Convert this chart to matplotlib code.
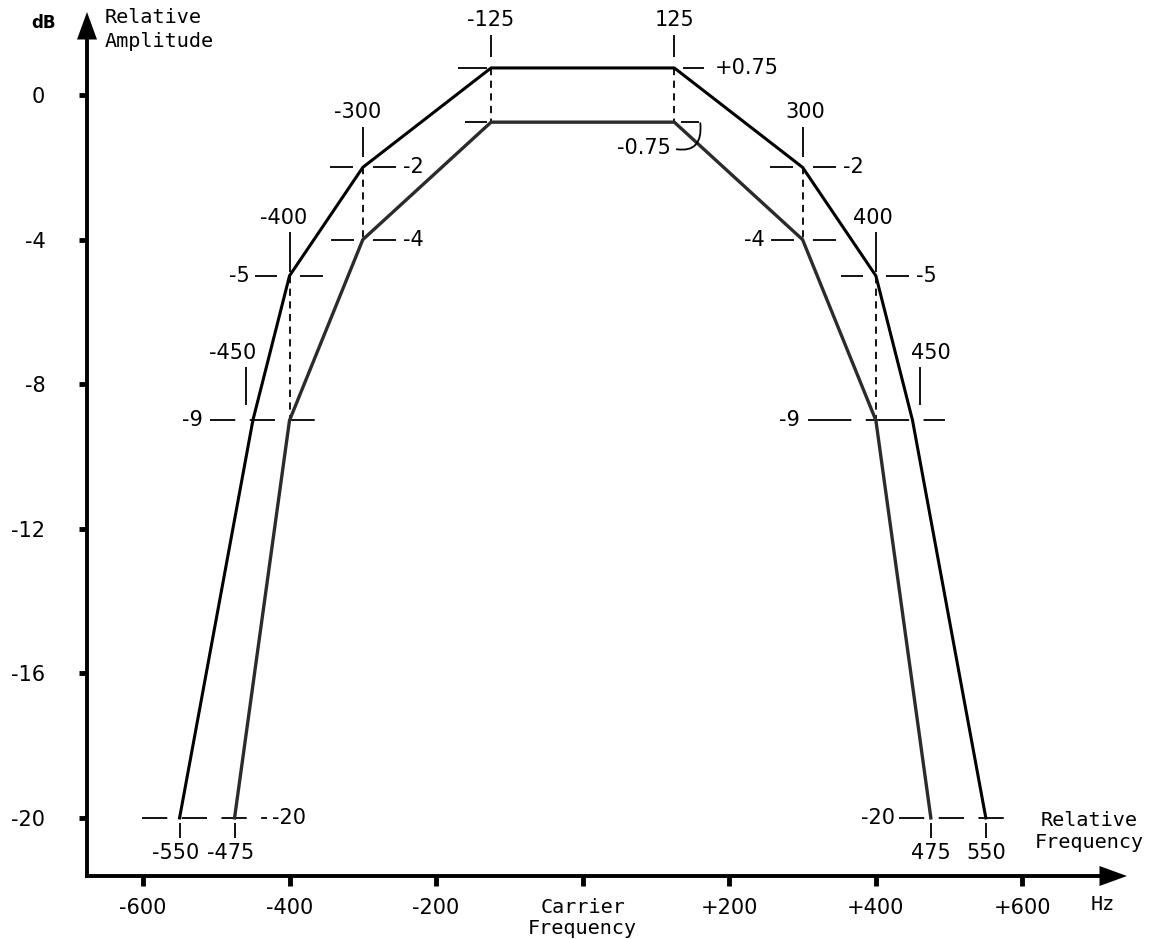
import matplotlib
matplotlib.use("Agg")
import matplotlib.pyplot as plt

# filter mask break points: frequency offset from carrier (Hz) and level (dB)
outer_hz = [-550, -450, -400, -300, -125, 125, 300, 400, 450, 550]
outer_db = [-20, -9, -5, -2, 0.75, 0.75, -2, -5, -9, -20]
inner_hz = [-475, -400, -300, -125, 125, 300, 400, 475]
inner_db = [-20, -9, -4, -0.75, -0.75, -4, -9, -20]

freq_ticks = [-600, -400, -200, 0, 200, 400, 600]
freq_labels = ["-600", "-400", "-200", "Carrier\nFrequency", "+200", "+400", "+600"]
db_ticks = [0, -4, -8, -12, -16, -20]
db_labels = ["0", "-4", "-8", "-12", "-16", "-20"]

W, H = 1150, 939
XLIM = (-795, 774)
YLIM = (-23.35, 2.63)
HZ_PX = (XLIM[1] - XLIM[0]) / W
DB_PX = (YLIM[1] - YLIM[0]) / H
AXIS_X = XLIM[0] + 87 * HZ_PX
AXIS_Y = YLIM[1] - 876 * DB_PX

MONO = "DejaVu Sans Mono"
FS = 15
LW = 1.3

fig = plt.figure(figsize=(W / 100, H / 100), dpi=100)
ax = fig.add_axes([0, 0, 1, 1])
ax.set_xlim(*XLIM)
ax.set_ylim(*YLIM)

# axes drawn as arrows through the left/bottom spines
for side in ["top", "right"]:
    ax.spines[side].set_visible(False)
ax.spines["left"].set_position(("data", AXIS_X))
ax.spines["bottom"].set_position(("data", AXIS_Y))
ax.spines["left"].set_linewidth(2.8)
ax.spines["bottom"].set_linewidth(2.8)
top_tip = YLIM[1] - 12 * DB_PX
right_tip = XLIM[0] + 1127 * HZ_PX
ax.spines["left"].set_bounds(AXIS_Y, top_tip - 15 * DB_PX)
ax.spines["bottom"].set_bounds(AXIS_X, right_tip - 15 * HZ_PX)
head = dict(arrowstyle="-|>,head_length=1.1,head_width=0.4", mutation_scale=18,
            color="black", lw=0, shrinkA=0, shrinkB=0)
ax.annotate("", xy=(AXIS_X, top_tip), xytext=(AXIS_X, top_tip - 30 * DB_PX), arrowprops=head)
ax.annotate("", xy=(right_tip, AXIS_Y), xytext=(right_tip - 30 * HZ_PX, AXIS_Y), arrowprops=head)

ax.set_xticks(freq_ticks)
ax.set_xticklabels(freq_labels)
ax.set_yticks(db_ticks)
ax.set_yticklabels(db_labels)
ax.tick_params(axis="y", direction="out", length=6, width=3.5, pad=24, labelsize=FS)
ax.tick_params(axis="x", direction="out", length=7, width=3.5, pad=9, labelsize=FS)
carrier = ax.get_xticklabels()[3]
carrier.set_fontfamily(MONO)
carrier.set_fontsize(14.5)
carrier.set_linespacing(1.1)

# the two mask curves
ax.plot(outer_hz, outer_db, color="black", lw=2.2, zorder=3)
ax.plot(inner_hz, inner_db, color="#2b2b2b", lw=2.4, zorder=3)

o = dict(zip(outer_hz, outer_db))
n = dict(zip(inner_hz, inner_db))


def seg(x, y, dx0, dy0, dx1, dy1, ls="-"):
    # short line next to a data point, offsets in pixels (y up)
    ax.plot([x + dx0 * HZ_PX, x + dx1 * HZ_PX], [y + dy0 * DB_PX, y + dy1 * DB_PX],
            color="black", lw=LW, ls=ls, solid_capstyle="butt")


def txt(x, y, s, dx, dy, ha="center"):
    ax.text(x + dx * HZ_PX, y + dy * DB_PX, s, ha=ha, va="center", fontsize=FS)


# frequency labels with tick above each corner of the outer curve
tops = {-125: (0, 48, 11, 33, 0), 125: (0, 48, 11, 33, 0),
        -300: (-5, 55, 10, 40, 0), 300: (3, 55, 10, 40, 0),
        -400: (-6, 58, 4, 44, 0), 400: (-3, 58, 4, 44, 0),
        -450: (-20, 67, 15, 53, -7), 450: (18, 67, 15, 53, 7)}
for h, (ldx, ldy, t0, t1, tdx) in tops.items():
    txt(h, o[h], str(h), ldx, ldy)
    seg(h, o[h], tdx, t0, tdx, t1)

# dashed drops from outer corner to inner corner at the same frequency
for h in sorted(set(o) & set(n)):
    ax.plot([h, h], [o[h], n[h]], color="black", lw=LW, ls=(0, (4, 3)))

# +0.75 / -0.75 levels
seg(-125, o[-125], -33, 0, -4, 0)
seg(125, o[125], 9, 0, 30, 0)
txt(125, o[125], "+0.75", 40, 0, ha="left")
seg(-125, n[-125], -26, 0, -4, 0)
seg(125, n[125], 7, 0, 25, 0)
ax.annotate("-0.75", xy=(125 + 26 * HZ_PX, n[125] - 1 * DB_PX),
            xytext=(125 - 3 * HZ_PX, n[125] - 26 * DB_PX), ha="right", va="center",
            fontsize=FS,
            arrowprops=dict(arrowstyle="-", lw=LW, color="black", shrinkA=2, shrinkB=0,
                            relpos=(1, 0.5), connectionstyle="arc3,rad=0.7"))

# -2 outer, -4 inner, -5 outer
for h in (-300, 300):
    seg(h, o[h], -33, 0, -10, 0)
    seg(h, o[h], 10, 0, 33, 0)
    txt(h, o[h], "-2", 40, 0, ha="left")
    seg(h, n[h], -32, 0, -9, 0)
    seg(h, n[h], 10, 0, 33, 0)
txt(-300, n[-300], "-4", 40, 0, ha="left")
txt(300, n[300], "-4", -38, 0, ha="right")
for h in (-400, 400):
    seg(h, o[h], -35, 0, -13, 0)
    seg(h, o[h], 10, 0, 33, 0)
txt(-400, o[-400], "-5", -40, 0, ha="right")
txt(400, o[400], "-5", 40, 0, ha="left")

# -9 and -20 reference lines
seg(-450, -9, -43, 0, (-400 + 450) / HZ_PX + 33, 0, ls=(0, (14, 8)))
txt(-450, -9, "-9", -50, 0, ha="right")
seg(400, -9, -68, 0, (450 - 400) / HZ_PX + 32, 0, ls=(0, (24, 8)))
txt(400, -9, "-9", -76, 0, ha="right")
seg(-550, -20, -38, 0, (-475 + 550) / HZ_PX + 32, 0, ls=(0, (14, 8)))
txt(-475, -20, "-20", 37, 0, ha="left")
seg(475, -20, -32, 0, (550 - 475) / HZ_PX + 31, 0, ls=(0, (14, 8)))
txt(475, -20, "-20", -36, 0, ha="right")
for h in (-550, -475):
    seg(h, -20, 0, -5, 0, -20)
    txt(h, -20, str(h), -4, -35)
for h in (475, 550):
    seg(h, -20, 0, -5, 0, -20)
    txt(h, -20, str(h), 0, -35)

# axis titles
ax.text(44 / W, 1 - 23 / H, "dB", transform=ax.transAxes, ha="center", va="center",
        fontsize=12, fontweight="bold")
ax.text(105 / W, 1 - 29.5 / H, "Relative\nAmplitude", transform=ax.transAxes,
        ha="left", va="center", fontsize=14.5, family=MONO, linespacing=1.35)
ax.text(1089 / W, 1 - 831 / H, "Relative\nFrequency", transform=ax.transAxes,
        ha="center", va="center", fontsize=14.5, family=MONO, linespacing=1.2)
ax.text(1103 / W, 1 - 905 / H, "Hz", transform=ax.transAxes, ha="center", va="center",
        fontsize=14.5, family=MONO)

fig.savefig("out.png", dpi=100)
